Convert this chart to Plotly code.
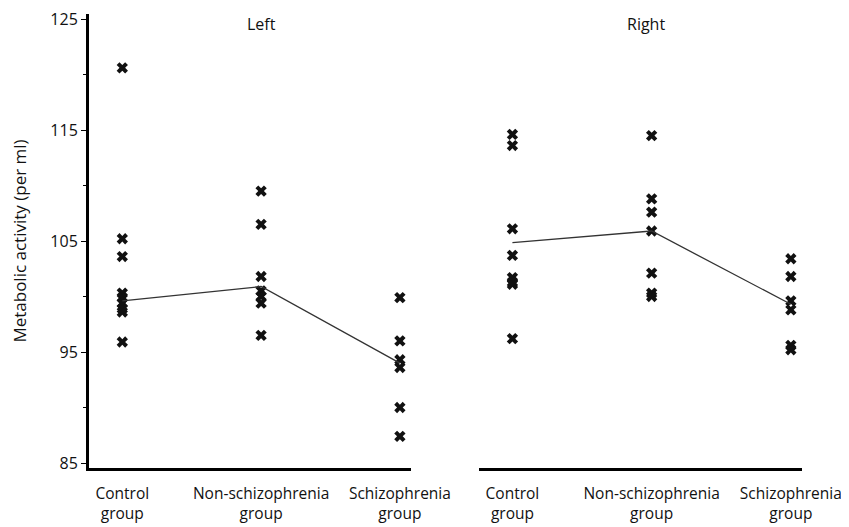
import plotly.graph_objects as go

groups = ["Control<br>group", "Non-schizophrenia<br>group", "Schizophrenia<br>group"]
panels = ["Left", "Right"]

left_control = [120.6, 105.2, 103.6, 100.3, 99.9, 99.4, 98.9, 98.6, 95.9]
left_nonschiz = [109.5, 106.5, 101.8, 100.5, 100.0, 99.4, 96.5]
left_schiz = [99.9, 96.0, 94.3, 93.6, 90.0, 87.4]
left_line = [99.6, 100.9, 94.0]

right_control = [114.6, 113.6, 106.1, 103.7, 101.7, 101.3, 101.1, 96.2]
right_nonschiz = [114.5, 108.8, 107.6, 105.9, 102.1, 100.3, 100.0]
right_schiz = [103.4, 101.8, 99.6, 98.8, 95.6, 95.2]
right_line = [104.85, 105.9, 99.3]

yticks = [85, 95, 105, 115, 125]

FONT = "'Open Sans', Lato, sans-serif"
fig = go.Figure()

def add_panel(series, line, xa, ya):
    for i, vals in enumerate(series):
        fig.add_trace(go.Scatter(
            x=[i] * len(vals), y=vals, mode="markers", xaxis=xa, yaxis=ya,
            marker=dict(symbol="x", size=10, color="#111111", line=dict(width=0)),
            showlegend=False, hoverinfo="y"))
    fig.add_trace(go.Scatter(
        x=list(range(len(line))), y=line, mode="lines", xaxis=xa, yaxis=ya,
        line=dict(color="#333333", width=1.3), showlegend=False, hoverinfo="y"))

add_panel([left_control, left_nonschiz, left_schiz], left_line, "x", "y")
add_panel([right_control, right_nonschiz, right_schiz], right_line, "x2", "y2")

xcommon = dict(range=[-0.24, 2.08], tickmode="array", tickvals=[0, 1, 2], ticktext=groups,
               showline=True, linewidth=3, linecolor="black", ticks="", showgrid=False,
               zeroline=False, automargin=False, ticklabeloverflow="allow",
               tickfont=dict(family=FONT, size=15.5, color="#111111"),
               ticklabelstandoff=9)
fig.update_layout(
    width=841, height=519,
    margin=dict(l=81, r=47, t=6, b=59),
    plot_bgcolor="white", paper_bgcolor="white",
    xaxis=dict(domain=[0, 0.4516], **xcommon),
    xaxis2=dict(domain=[0.547, 1], **xcommon),
    yaxis=dict(range=[84.55, 125.45], tickmode="array", tickvals=yticks,
               showline=True, linewidth=3, linecolor="black", ticks="outside",
               ticklen=5, tickwidth=1, tickcolor="black", showgrid=False, zeroline=False,
               automargin=False, ticklabeloverflow="allow",
               minor=dict(tickvals=[90, 100, 110, 120], ticks="outside", ticklen=3,
                          tickwidth=1, tickcolor="black"),
               tickfont=dict(family=FONT, size=16, color="#111111"),
               title=dict(text="Metabolic activity (per ml)", standoff=20,
                          font=dict(family=FONT, size=17, color="#111111"))),
    yaxis2=dict(range=[84.55, 125.45], anchor="x2", showline=False, showticklabels=False,
                ticks="", showgrid=False, zeroline=False, automargin=False),
    annotations=[
        dict(text=panels[0], xref="x", yref="paper", x=1, y=0.978, showarrow=False,
             font=dict(family=FONT, size=16, color="#111111"), yanchor="middle"),
        dict(text=panels[1], xref="x2", yref="paper", x=0.96, y=0.978, showarrow=False,
             font=dict(family=FONT, size=16, color="#111111"), yanchor="middle"),
    ],
)

fig.write_html("out.html")
